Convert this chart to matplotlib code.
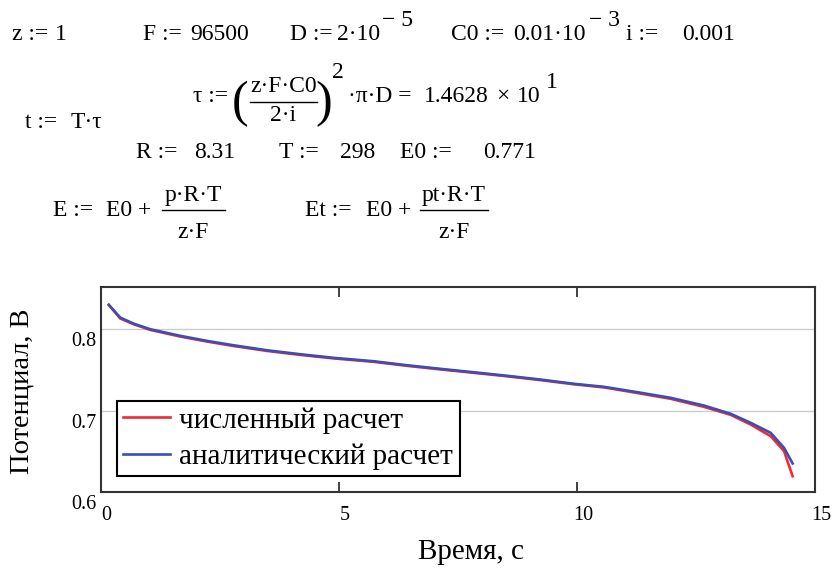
import matplotlib
matplotlib.use('Agg')
import matplotlib.pyplot as plt
from matplotlib.lines import Line2D
from matplotlib.transforms import ScaledTranslation

plt.rcParams['font.family'] = ['Liberation Serif', 'DejaVu Serif']

# time, s
t_num = [0.17, 0.41, 0.69, 1.04, 1.67, 2.23, 2.79, 3.49, 4.19, 4.89, 5.73, 6.43, 7.13,
         7.83, 8.54, 9.24, 9.94, 10.57, 11.27, 11.97, 12.67, 13.23, 13.65, 14.07, 14.35, 14.53]
t_an = [0.17, 0.41, 0.69, 1.04, 1.67, 2.23, 2.79, 3.49, 4.19, 4.89, 5.73, 6.43, 7.13,
        7.83, 8.54, 9.24, 9.94, 10.57, 11.27, 11.97, 12.67, 13.23, 13.65, 14.07, 14.35, 14.53]
# potential, V
E_num = [0.8297, 0.8130, 0.8060, 0.7990, 0.7908, 0.7847, 0.7792, 0.7732, 0.7683, 0.7640, 0.7598,
         0.7549, 0.7505, 0.7463, 0.7420, 0.7373, 0.7322, 0.7284, 0.7215, 0.7144, 0.7045, 0.6947,
         0.6828, 0.6685, 0.6501, 0.6194]
E_an = [0.8297, 0.8141, 0.8067, 0.7998, 0.7917, 0.7855, 0.7801, 0.7740, 0.7691, 0.7647, 0.7605,
        0.7556, 0.7512, 0.7470, 0.7426, 0.7380, 0.7328, 0.7291, 0.7225, 0.7156, 0.7061, 0.6960,
        0.6849, 0.6726, 0.6542, 0.6350]

x_ticks = [0, 5, 10, 15]
y_ticks = [0.6, 0.7, 0.8]
labels = ['численный расчет', 'аналитический расчет']

W, H = 832, 578
FS = 17
fig = plt.figure(figsize=(W / 100, H / 100), dpi=100)


def P(x, y):
    return x / W, 1 - y / H


def txt(x, y, s, size=FS, **kw):
    kw.setdefault('ha', 'left')
    kw.setdefault('va', 'center')
    fig.text(*P(x, y), s, fontsize=size, **kw)


def assign(x0, x1, y, name, value):
    # left part "name :=" and the value flush to the right end, like mathcad spacing
    txt(x0, y, name + ' :=')
    txt(x1, y, value, ha='right')


def frac(x1, x2, y_line, num, y_num, den, y_den):
    cx = (x1 + x2) / 2
    txt(cx, y_num, num, ha='center')
    txt(cx, y_den, den, ha='center')
    (a, b), (c, d) = P(x1, y_line), P(x2, y_line)
    fig.add_artist(Line2D([a, c], [b, d], color='black', lw=1.0, transform=fig.transFigure))


# worksheet formulas
assign(12, 66.7, 35, 'z', '1')
assign(143, 249.3, 35, 'F', '96500')
assign(290, 380, 35, 'D', '2·10')
txt(382, 21, '− 5')
assign(451, 586, 35, 'C0', '0.01·10')
txt(589, 21, '− 3')
assign(626, 735, 35, 'i', '0.001')

txt(193, 97, 'τ :=')
txt(240, 104, '(', size=36, ha='center')
frac(250, 317, 101.7, 'z·F·C0', 86, '2·i', 115.5)
txt(324, 104, ')', size=36, ha='center')
txt(332, 72.5, '2')
txt(348, 97, '·π·D =')
txt(424, 97, '1.4628')
txt(496, 97, '×')
txt(517, 97, '10')
txt(546, 83, '1')
txt(25, 123, 't :=')
txt(101.7, 123, 'T·τ', ha='right')

assign(136, 235, 153, 'R', '8.31')
assign(279, 375, 153, 'T', '298')
assign(400, 536, 153, 'E0', '0.771')

txt(53, 210, 'E :=')
txt(151.7, 210, 'E0 +', ha='right')
frac(162, 225, 210, 'p·R·T', 195, 'z·F', 232.5)
txt(305, 210, 'Et :=')
txt(411.7, 210, 'E0 +', ha='right')
frac(420, 488, 210, 'pt·R·T', 195, 'z·F', 232.5)

# chart
ax = fig.add_axes([100.7 / W, 1 - 492 / H, (815 - 100.7) / W, (492 - 286.7) / H])
ax.plot(t_num, E_num, color='#f02a35', lw=1.9, label=labels[0])
ax.plot(t_an, E_an, color='#3c4db4', lw=1.9, label=labels[1])
ax.set_xlim(0, 15)
ax.set_ylim(0.6, 0.852)
ax.set_xticks(x_ticks)
ax.set_xticklabels([str(v) for v in x_ticks])
ax.set_yticks(y_ticks)
ax.set_yticklabels([str(v) for v in y_ticks])
ax.grid(axis='y', color='#cccccc', lw=1.0)
ax.tick_params(axis='x', direction='in', top=True, length=7, width=1.3, pad=10,
               labelsize=14.5, color='#333333')
ax.tick_params(axis='y', length=0, pad=3, labelsize=14.5)
for sp in ax.spines.values():
    sp.set_color('#333333')
    sp.set_linewidth(1.5)

off_x = ScaledTranslation(6 / 100, 0, fig.dpi_scale_trans)
for lab in ax.get_xticklabels():
    lab.set_transform(lab.get_transform() + off_x)
off_y = ScaledTranslation(0, -10 / 100, fig.dpi_scale_trans)
for lab in ax.get_yticklabels():
    lab.set_transform(lab.get_transform() + off_y)

leg = ax.legend(loc='upper left', bbox_to_anchor=((116.7 - 100.7) / 714.3, (492 - 400.7) / 205.3),
                borderaxespad=0, fontsize=21, handlelength=1.6, handletextpad=0.33,
                borderpad=0.22, labelspacing=0.33, fancybox=False, framealpha=1)
leg.get_frame().set_edgecolor('black')
leg.get_frame().set_linewidth(1.5)

txt(21.7, 391.5, 'Потенциал, В', size=20.5, ha='center', rotation=90)
txt(471, 552, 'Время, с', size=21, ha='center')

fig.savefig('out.png', dpi=100)
